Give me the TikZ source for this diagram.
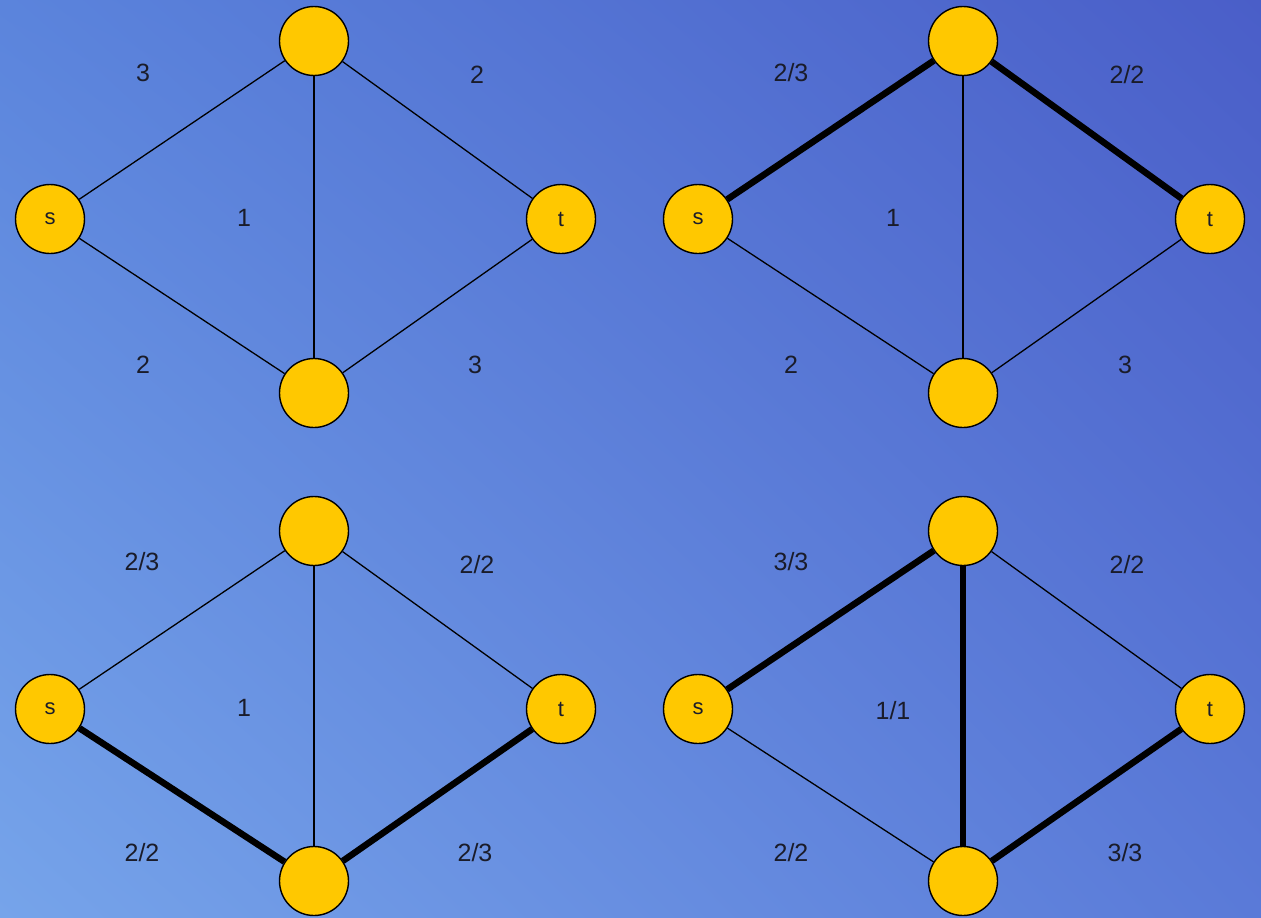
\documentclass[tikz,border=0pt]{standalone}
\usepackage{fontspec}
\setmainfont{Liberation Sans}
\usetikzlibrary{shadings}
\definecolor{bgTL}{HTML}{5B84DC}
\definecolor{bgTR}{HTML}{4A5EC8}
\definecolor{bgBL}{HTML}{76A4EA}
\definecolor{bgBR}{HTML}{5A7AD8}
\definecolor{nodefill}{HTML}{FFC800}
\definecolor{labtext}{HTML}{1A1C2A}
\tikzset{
  vert/.style={circle, draw=black, line width=1.4pt, fill=nodefill, minimum size=69pt, inner sep=0pt, font=\fontsize{22}{25}\selectfont, text=labtext},
  plainedge/.style={draw=black, line width=1.3pt},
  flowedge/.style={draw=black, line width=6.5pt},
  edgelab/.style={font=\fontsize{25}{28}\selectfont, text=labtext, inner sep=0pt}
}
\begin{document}
\begin{tikzpicture}[x=1pt,y=-1pt]
\useasboundingbox (0,0) rectangle (1261,918);
\shade[upper left=bgTL, upper right=bgTR, lower left=bgBL, lower right=bgBR] (0,0) rectangle (1261,918);
% ---------- top-left ----------
\node[vert] (s1) at (50,219) {s};
\node[vert] (a1) at (314,41) {};
\node[vert] (t1) at (561,219) {t};
\node[vert] (b1) at (314,393) {};
\path[plainedge] (s1) -- (a1);
\path[plainedge] (a1) -- (t1);
\path[plainedge] (s1) -- (b1);
\path[plainedge] (b1) -- (t1);
\path[plainedge] (a1) -- (b1);
\node[edgelab] (l1a) at (143,73) {3};
\node[edgelab] (l1b) at (477,75) {2};
\node[edgelab] (l1c) at (244,218) {1};
\node[edgelab] (l1d) at (143,365) {2};
\node[edgelab] (l1e) at (475,365) {3};
% ---------- top-right ----------
\node[vert] (s2) at (698,219) {s};
\node[vert] (a2) at (963,41) {};
\node[vert] (t2) at (1210,219) {t};
\node[vert] (b2) at (963,393) {};
\path[flowedge] (s2) -- (a2);
\path[flowedge] (a2) -- (t2);
\path[plainedge] (s2) -- (b2);
\path[plainedge] (b2) -- (t2);
\path[plainedge] (a2) -- (b2);
\node[edgelab] (l2a) at (791,73) {2/3};
\node[edgelab] (l2b) at (1127,75) {2/2};
\node[edgelab] (l2c) at (893,218) {1};
\node[edgelab] (l2d) at (791,365) {2};
\node[edgelab] (l2e) at (1125,365) {3};
% ---------- bottom-left ----------
\node[vert] (s3) at (50,709) {s};
\node[vert] (a3) at (314,531) {};
\node[vert] (t3) at (561,709) {t};
\node[vert] (b3) at (314,881) {};
\path[plainedge] (s3) -- (a3);
\path[plainedge] (a3) -- (t3);
\path[flowedge] (s3) -- (b3);
\path[flowedge] (b3) -- (t3);
\path[plainedge] (a3) -- (b3);
\node[edgelab] (l3a) at (142,562) {2/3};
\node[edgelab] (l3b) at (477,565) {2/2};
\node[edgelab] (l3c) at (244,708) {1};
\node[edgelab] (l3d) at (142,853) {2/2};
\node[edgelab] (l3e) at (475,853) {2/3};
% ---------- bottom-right ----------
\node[vert] (s4) at (698,709) {s};
\node[vert] (a4) at (963,531) {};
\node[vert] (t4) at (1210,709) {t};
\node[vert] (b4) at (963,881) {};
\path[flowedge] (s4) -- (a4);
\path[plainedge] (a4) -- (t4);
\path[plainedge] (s4) -- (b4);
\path[flowedge] (b4) -- (t4);
\path[flowedge] (a4) -- (b4);
\node[edgelab] (l4a) at (791,562) {3/3};
\node[edgelab] (l4b) at (1127,565) {2/2};
\node[edgelab] (l4c) at (893,711) {1/1};
\node[edgelab] (l4d) at (791,853) {2/2};
\node[edgelab] (l4e) at (1125,853) {3/3};
\end{tikzpicture}
\end{document}
